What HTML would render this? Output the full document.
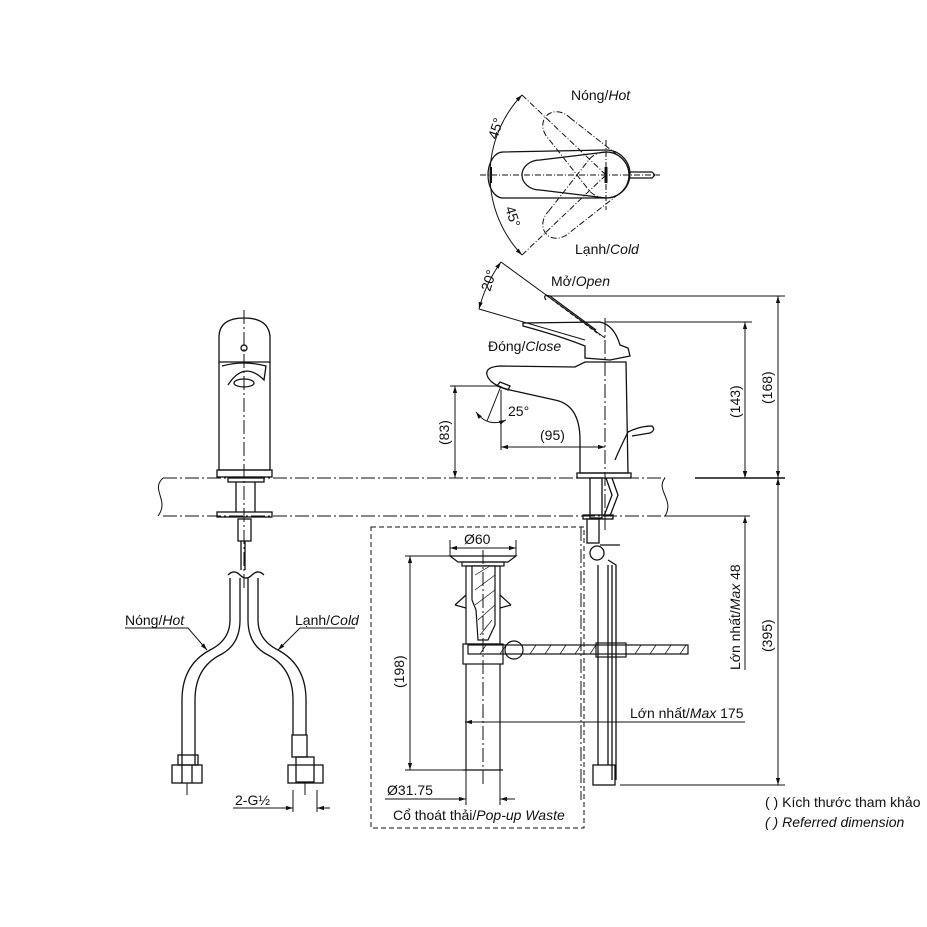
<!DOCTYPE html>
<html><head><meta charset="utf-8"><style>
html,body{margin:0;padding:0;background:#fff}
svg{display:block}
text{font-family:"Liberation Sans",sans-serif;fill:#111;font-size:14px}
.i{font-style:italic}
</style></head><body>
<svg width="927" height="927" viewBox="0 0 927 927" xmlns="http://www.w3.org/2000/svg">
<defs>
<marker id="a" viewBox="0 0 10 10" refX="10" refY="5" markerWidth="7" markerHeight="7" orient="auto-start-reverse"><path d="M0,2L10,5L0,8z" fill="#111"/></marker>
</defs>
<g fill="none" stroke="#111" stroke-width="1">
<!-- TOP VIEW -->
<g stroke-width="1.2">
<path d="M503,152 L606,150 A23,23 0 0 1 606,198 L503,198 A15,23 0 0 1 503,152z"/>
<path d="M540,160 L606,152 A23,23 0 0 1 606,198 L540,190 A18,15 0 0 1 540,160z"/>
<path d="M629,172 L652,172 L655,175 L652,178 L629,178"/>
</g>
<g stroke-dasharray="6,2,1,2">
<path d="M540,160 L606,152 A23,23 0 0 1 606,198 L540,190 A18,15 0 0 1 540,160z" transform="rotate(45 606 175)"/>
<path d="M540,160 L606,152 A23,23 0 0 1 606,198 L540,190 A18,15 0 0 1 540,160z" transform="rotate(-45 606 175)"/>
<line x1="480" y1="175" x2="660" y2="175"/>
<line x1="606" y1="140" x2="606" y2="210"/>
<line x1="522" y1="95" x2="606" y2="175"/>
<line x1="522" y1="255" x2="606" y2="175"/>
</g>
<path d="M522,95 A116,116 0 0 0 522,255" marker-start="url(#a)" marker-end="url(#a)"/>
<line x1="491" y1="167" x2="491" y2="183" stroke-width="2"/>
<line x1="606" y1="167" x2="606" y2="183" stroke-width="3"/>

<!-- SLAB -->
<g stroke-dasharray="14,3,2,3">
<line x1="163" y1="478" x2="665" y2="478"/>
<line x1="163" y1="516" x2="665" y2="516"/>
</g>
<path d="M163,478 C150,490 170,500 158,516"/>
<path d="M665,478 C655,490 675,500 665,516"/>
<line x1="695" y1="478" x2="785" y2="478" stroke-width="1.5"/>
<line x1="665" y1="516" x2="750" y2="516"/>

<!-- LEFT FRONT VIEW -->
<g stroke-width="1.3">
<path d="M219,362 L219,336 Q220,318 244,318 Q268,318 270,336 L270,362z"/>
<path d="M219,362 L219,470 L270,470 L270,362"/>
<rect x="217" y="470" width="55" height="7"/>
<path d="M222,366 Q244,360 266,366 L264,380 Q244,360 228,385"/>
<ellipse cx="244" cy="383" rx="10" ry="4"/>
<circle cx="244" cy="348" r="3"/>
<rect x="228" y="478" width="36" height="4"/>
<line x1="236" y1="482" x2="236" y2="512"/><line x1="255" y1="482" x2="255" y2="512"/>
<rect x="217" y="512" width="55" height="5"/>
<rect x="238" y="519" width="13" height="22"/>
<line x1="241" y1="541" x2="241" y2="570"/><line x1="245" y1="541" x2="245" y2="570"/>
<path d="M230,578 L230,620 Q230,640 210,650 Q182,665 182,700 L182,765"/>
<path d="M240,578 L240,620 Q240,645 220,655 Q195,668 195,700 L195,765"/>
<path d="M248,578 L248,620 Q248,645 268,655 Q293,668 293,700 L293,735"/>
<path d="M258,578 L258,620 Q258,640 278,650 Q306,665 306,700 L306,735"/>
<path d="M228,575 q6,-6 12,0 q6,6 12,0 q6,-6 12,0"/>
<rect x="178" y="755" width="20" height="10"/>
<rect x="172" y="765" width="30" height="18"/>
<line x1="182" y1="765" x2="182" y2="783"/><line x1="192" y1="765" x2="192" y2="783"/>
<rect x="292" y="735" width="15" height="22"/>
<rect x="288" y="765" width="35" height="18"/>
<rect x="296" y="757" width="18" height="25"/>
</g>
<line x1="244" y1="310" x2="244" y2="590" stroke-dasharray="14,3,2,3"/>
<line x1="187" y1="783" x2="187" y2="795"/><line x1="305" y1="783" x2="305" y2="795"/>
<line x1="293" y1="790" x2="293" y2="812"/><line x1="317" y1="790" x2="317" y2="812"/>
<line x1="233" y1="808" x2="293" y2="808" marker-end="url(#a)"/>
<line x1="330" y1="808" x2="317" y2="808" marker-end="url(#a)"/>
<path d="M125,628 L188,628 L207,650" marker-end="url(#a)"/>
<path d="M355,628 L300,628 L278,650" marker-end="url(#a)"/>

<!-- SIDE VIEW -->
<g stroke-width="1.3">
<path d="M580,473 L580,440 Q580,405 555,400 L510,390 Q490,385 487,375 Q485,367 500,366 L575,367 L585,362 L626,362 L628,473z"/>
<rect x="577" y="473" width="54" height="5"/>
<path d="M500,382 L510,386 L508,390 L497,386z"/>
<path d="M523,323 L600,322 Q614,325 620,345 L628,348 L630,356 L610,360 L585,358 L585,346 Q560,336 523,326z"/>
<path d="M628,432 Q620,448 615,460 M628,432 Q640,426 652,426 Q656,430 650,433 L632,436"/>
<rect x="590" y="478" width="12" height="40"/>
<path d="M606,478 L612,495 L604,516"/>
<path d="M612,478 L618,495 L610,516"/>
<rect x="583" y="515" width="30" height="4"/>
<rect x="587" y="519" width="12" height="24"/>
<circle cx="597" cy="553" r="7"/>
<path d="M600,545 L620,545 M608,560 L616,565 L616,780 M612,565 L612,780"/>
<line x1="598" y1="565" x2="598" y2="765"/><line x1="608" y1="565" x2="608" y2="765"/>
<rect x="593" y="765" width="22" height="20"/>
</g>
<path d="M546,295 L600,335" stroke-dasharray="4,2" stroke-width="1.2"/>
<path d="M546,300 Q542,294 550,296 L596,330" stroke-width="1.2"/>
<line x1="605" y1="318" x2="605" y2="530" stroke-dasharray="14,3,2,3"/>
<line x1="501" y1="262" x2="605" y2="338"/>
<line x1="479" y1="309" x2="585" y2="340"/>
<path d="M501,262 A140,140 0 0 0 479,309" marker-start="url(#a)" marker-end="url(#a)"/>
<line x1="550" y1="296" x2="785" y2="296"/>
<line x1="605" y1="322" x2="752" y2="322"/>
<line x1="778" y1="296" x2="778" y2="478" marker-start="url(#a)" marker-end="url(#a)"/>
<line x1="745" y1="322" x2="745" y2="478" marker-start="url(#a)" marker-end="url(#a)"/>
<line x1="455" y1="386" x2="455" y2="478" marker-start="url(#a)" marker-end="url(#a)"/>
<line x1="450" y1="386" x2="500" y2="386"/>
<line x1="501" y1="390" x2="501" y2="450"/>
<line x1="501" y1="447" x2="605" y2="447" marker-start="url(#a)" marker-end="url(#a)"/>
<line x1="501" y1="386" x2="487" y2="421"/>
<path d="M476,412 Q488,428 506,420" marker-start="url(#a)" marker-end="url(#a)"/>
<line x1="745" y1="460" x2="745" y2="478" marker-end="url(#a)"/>
<line x1="745" y1="535" x2="745" y2="516" marker-end="url(#a)"/>
<line x1="745" y1="516" x2="745" y2="670"/>
<line x1="778" y1="478" x2="778" y2="785" marker-start="url(#a)" marker-end="url(#a)"/>
<line x1="620" y1="785" x2="785" y2="785"/>
<line x1="615" y1="722" x2="745" y2="722"/>
<line x1="465" y1="722" x2="615" y2="722" marker-start="url(#a)"/>

<!-- POP-UP BOX -->
<rect x="371" y="527" width="213" height="301" stroke-dasharray="5,3"/>
<line x1="581" y1="527" x2="581" y2="800" stroke-dasharray="14,3,2,3"/>
<g stroke-width="1.2">
<path d="M450,556 L516,556 L508,562 L458,562z"/>
<rect x="462" y="562" width="42" height="4"/>
<rect x="466" y="566" width="34" height="78"/>
<path d="M472,566 L495,566 L495,625 L488,640 L478,640 L476,610 L472,600z" fill="#fff"/>
<path d="M455,605 L466,595 M511,605 L500,595 M455,605 L466,608 M511,605 L500,608"/>
<rect x="463" y="644" width="40" height="20"/>
<rect x="468" y="645" width="220" height="9"/>
<circle cx="514" cy="650" r="9"/>
<rect x="596" y="643" width="30" height="14"/>
<line x1="466" y1="664" x2="466" y2="770"/><line x1="500" y1="664" x2="500" y2="770"/>
<line x1="463" y1="770" x2="503" y2="770"/>
</g>
<g stroke-width="0.7">
<path d="M475,575 L490,566 M475,590 L495,575 M475,605 L495,590 M478,620 L495,605 M480,635 L492,620"/>
<path d="M480,654 L486,645 M500,654 L506,645 M530,654 L536,645 M545,654 L551,645 M560,654 L566,645 M575,654 L581,645 M590,654 L596,645 M635,654 L641,645 M650,654 L656,645 M665,654 L671,645 M680,654 L686,645"/>
</g>
<line x1="483" y1="550" x2="483" y2="785" stroke-dasharray="14,3,2,3"/>
<line x1="450" y1="540" x2="450" y2="556"/><line x1="516" y1="540" x2="516" y2="556"/>
<line x1="450" y1="548" x2="516" y2="548" marker-start="url(#a)" marker-end="url(#a)"/>
<line x1="405" y1="556" x2="455" y2="556"/><line x1="405" y1="770" x2="463" y2="770"/>
<line x1="410" y1="556" x2="410" y2="770" marker-start="url(#a)" marker-end="url(#a)"/>
<line x1="466" y1="770" x2="466" y2="805"/><line x1="500" y1="770" x2="500" y2="805"/>
<line x1="385" y1="799" x2="466" y2="799" marker-end="url(#a)"/>
<line x1="515" y1="799" x2="500" y2="799" marker-end="url(#a)"/>
</g>

<text x="571" y="100">Nóng/<tspan class="i">Hot</tspan></text>
<text x="575" y="254">Lạnh/<tspan class="i">Cold</tspan></text>
<text transform="translate(497,140) rotate(-72)">45°</text>
<text transform="translate(505,208) rotate(72)">45°</text>
<text transform="translate(490,292) rotate(-72)">20°</text>
<text x="551" y="286">Mở/<tspan class="i">Open</tspan></text>
<text x="488" y="351">Đóng/<tspan class="i">Close</tspan></text>
<text x="508" y="416">25°</text>
<text x="540" y="440">(95)</text>
<text transform="translate(449,445) rotate(-90)">(83)</text>
<text transform="translate(740,418) rotate(-90)">(143)</text>
<text transform="translate(772,404) rotate(-90)">(168)</text>
<text transform="translate(740,670) rotate(-90)">Lớn nhất/<tspan class="i">Max</tspan> 48</text>
<text transform="translate(772,652) rotate(-90)">(395)</text>
<text x="630" y="718">Lớn nhất/<tspan class="i">Max</tspan> 175</text>
<text x="464" y="544">Ø60</text>
<text transform="translate(404,688) rotate(-90)">(198)</text>
<text x="387" y="795">Ø31.75</text>
<text x="393" y="820">Cổ thoát thải/<tspan class="i">Pop-up Waste</tspan></text>
<text x="125" y="625">Nóng/<tspan class="i">Hot</tspan></text>
<text x="295" y="625">Lạnh/<tspan class="i">Cold</tspan></text>
<text x="235" y="805">2-G½</text>
<text x="765" y="807">( ) Kích thước tham khảo</text>
<text x="765" y="827" class="i">( ) Referred dimension</text>
</svg>
</body></html>
